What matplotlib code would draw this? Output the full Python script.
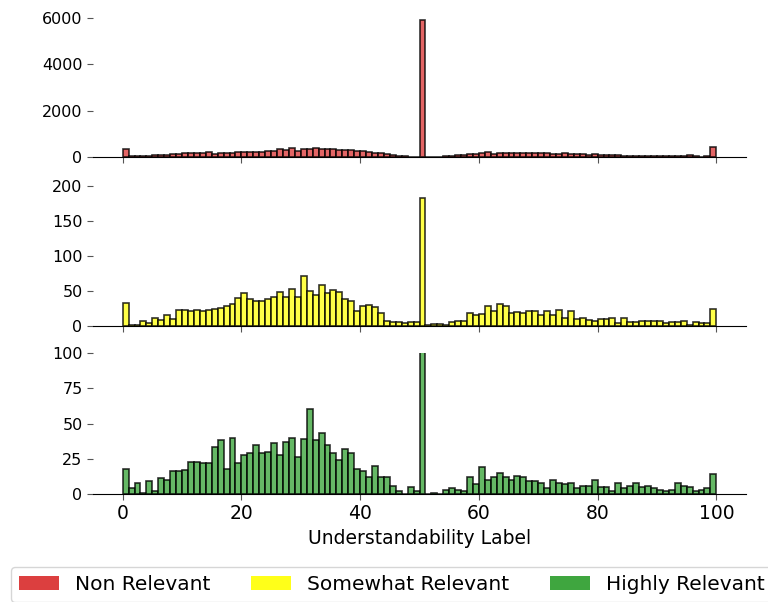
import matplotlib
matplotlib.use("Agg")
import matplotlib.pyplot as plt
from matplotlib.patches import Patch

bins = list(range(0, 100))  # left edges of bins, width 1

non_relevant = [360, 30, 30, 45, 60, 70, 85, 100, 115, 144,
                187, 158, 158, 158, 200, 130, 173, 158, 158, 200,
                230, 200, 230, 230, 245, 274, 330, 300, 400, 274,
                345, 345, 390, 360, 345, 345, 317, 300, 300, 274,
                245, 216, 187, 158, 115, 72, 43, 29, 14, 14,
                5900, 14, 14, 14, 29, 43, 86, 100, 130, 144,
                173, 200, 144, 187, 173, 187, 173, 187, 158, 173,
                187, 173, 144, 144, 158, 144, 115, 130, 100, 115,
                86, 72, 72, 72, 60, 60, 58, 58, 50, 50,
                45, 45, 40, 40, 30, 100, 30, 20, 30, 418]

somewhat_relevant = [33, 2, 2, 7, 4, 12, 9, 15, 10, 23,
                     23, 22, 23, 21, 23, 24, 26, 28, 32, 40,
                     47, 38, 35, 36, 39, 42, 48, 41, 53, 42,
                     71, 50, 44, 59, 47, 51, 49, 39, 35, 21,
                     28, 30, 27, 19, 7, 6, 5, 4, 5, 5,
                     182, 1, 3, 3, 1, 5, 7, 7, 19, 15,
                     17, 29, 22, 31, 29, 18, 20, 18, 22, 22,
                     16, 22, 16, 23, 12, 21, 10, 12, 8, 7,
                     10, 10, 12, 4, 11, 5, 5, 7, 7, 7,
                     7, 4, 6, 6, 7, 1, 5, 4, 4, 24]

highly_relevant = [18, 4, 8, 1, 9, 2, 11, 10, 16, 16,
                   17, 23, 23, 22, 22, 33, 38, 18, 40, 22,
                   28, 29, 35, 29, 30, 36, 28, 37, 40, 26,
                   39, 60, 38, 43, 35, 29, 24, 32, 29, 18,
                   16, 12, 20, 12, 12, 6, 2, 0, 5, 2,
                   140, 0, 1, 0, 3, 4, 3, 2, 12, 7,
                   19, 10, 12, 15, 12, 10, 13, 12, 9, 9,
                   8, 4, 10, 8, 7, 8, 4, 6, 6, 10,
                   5, 5, 2, 8, 4, 6, 8, 5, 6, 4,
                   3, 2, 3, 8, 6, 5, 2, 3, 4, 14]

series = [non_relevant, somewhat_relevant, highly_relevant]
labels = ["Non Relevant", "Somewhat Relevant", "Highly Relevant"]
colors = ["#dc3f3f", "#ffff19", "#3fa63f"]
ylims = [6090, 201, 100]
yticks = [[0, 2000, 4000, 6000], [0, 50, 100, 150, 200], [0, 25, 50, 75, 100]]
xticks = [0, 20, 40, 60, 80, 100]

plt.rcParams['font.family'] = ['DejaVu Sans']
fig = plt.figure(figsize=(7.68, 6.02), dpi=100)

left, right = 93 / 768, 746 / 768
h = 141 / 602
bottoms = [1 - 157 / 602, 1 - 326 / 602, 1 - 494 / 602]

axes = []
for i, (vals, c, yl, yt) in enumerate(zip(series, colors, ylims, yticks)):
    ax = fig.add_axes([left, bottoms[i], right - left, h])
    ax.bar(bins, vals, width=1, align='edge', color=c, alpha=0.8,
           edgecolor='black', linewidth=1.2)
    ax.set_xlim(-5, 105)
    ax.set_ylim(0, yl)
    ax.set_yticks(yt)
    ax.set_xticks(xticks)
    for s in ['top', 'right', 'left']:
        ax.spines[s].set_visible(False)
    ax.spines['bottom'].set_color('black')
    ax.tick_params(axis='y', labelsize=11.5, length=4, color='#555555')
    ax.tick_params(axis='x', labelsize=13.5, length=4, color='#555555')
    if i < 2:
        ax.tick_params(axis='x', labelbottom=False)
    axes.append(ax)

axes[2].set_xlabel("Understandability Label", fontsize=13.5)

handles = [Patch(facecolor=c, label=l) for c, l in zip(colors, labels)]
fig.legend(handles=handles, loc='upper center', bbox_to_anchor=(0.51, 0.058),
           borderaxespad=0, ncol=3, fontsize=14.5, frameon=True,
           handlelength=2.0, columnspacing=2.0)

fig.savefig("out.png", dpi=100)
